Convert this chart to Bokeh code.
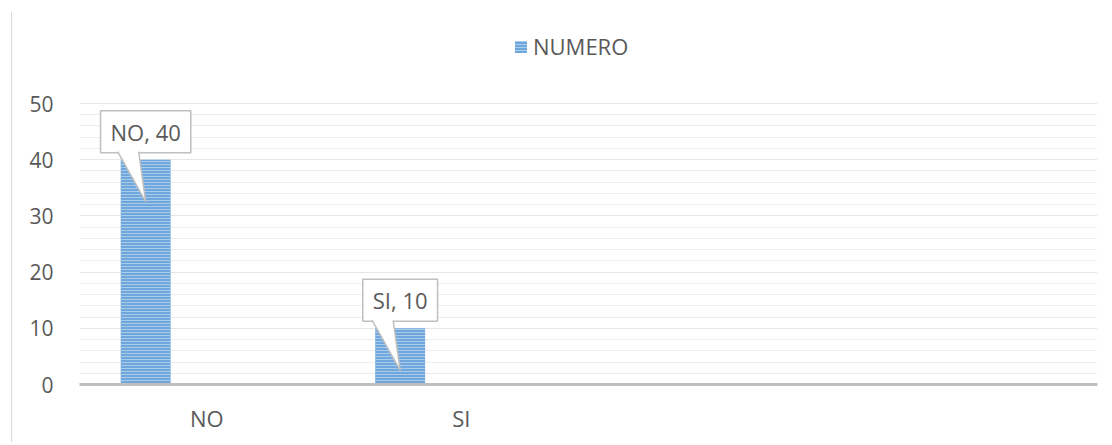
from bokeh.plotting import figure
from bokeh.models import Range1d, FixedTicker, Legend, LegendItem, ColumnDataSource
from bokeh.core.properties import value
from bokeh.embed import file_html
from bokeh.resources import INLINE

# ---- data ----
categories = ["NO", "SI"]
n_slots = 4                      # the category axis has 4 slots, two of them empty
values = [40, 10]
series_name = "NUMERO"
y_ticks = [0, 10, 20, 30, 40, 50]
y_minor = [2, 4, 6, 8, 12, 14, 16, 18, 22, 24, 26, 28, 32, 34, 36, 38, 42, 44, 46, 48]

# ---- layout / style ----
FONT = "Open Sans"
TXT = "#595959"
W, H = 1104, 442
LEFT, RIGHT, TOP, BOTTOM = 79, 7, 0, 58
frame_w = W - LEFT - RIGHT
frame_h = H - TOP - BOTTOM
y_px = 281 / 50.0                # pixels per unit on the value axis
y_end = frame_h / y_px
x_px = frame_w / n_slots         # pixels per category slot
bar_offset = -0.24
bar_width = 0.196

p = figure(width=W, height=H, output_backend="svg", toolbar_location=None,
           x_range=Range1d(0, n_slots), y_range=Range1d(0, y_end),
           min_border_left=LEFT, min_border_right=RIGHT,
           min_border_top=TOP, min_border_bottom=BOTTOM)
p.outline_line_color = None
p.background_fill_color = "white"
p.border_fill_color = None
p.styles = {"background-color": "white",
            "background-image": "linear-gradient(to right, #d9d9d9, #d9d9d9)",
            "background-size": "1px 100%",
            "background-position": "11px 12px",
            "background-repeat": "no-repeat"}

centers = [i + 0.5 for i in range(len(categories))]
bar_x = [c + bar_offset for c in centers]
src = ColumnDataSource(dict(x=bar_x, top=values, cat=categories,
                            lab=[f"{c}, {v}" for c, v in zip(categories, values)]))

bars = p.vbar(x="x", top="top", bottom=0, width=bar_width, source=src,
              fill_color="#6fa7dc", line_color=None,
              hatch_pattern="horizontal_line", hatch_color="#a9cbec",
              hatch_scale=3, hatch_weight=1)

# ---- axes ----
p.xaxis.ticker = FixedTicker(ticks=centers)
p.xaxis.major_label_overrides = {c: lab for c, lab in zip(centers, categories)}
p.xaxis.axis_line_color = "#bfbfbf"
p.xaxis.axis_line_width = 3
p.xaxis.major_tick_line_color = None
p.xaxis.minor_tick_line_color = None
p.xaxis.major_label_standoff = 12
p.xaxis.major_label_text_font = FONT
p.xaxis.major_label_text_font_size = "22px"
p.xaxis.major_label_text_color = TXT

p.yaxis.ticker = FixedTicker(ticks=y_ticks, minor_ticks=y_minor)
p.yaxis.axis_line_color = None
p.yaxis.major_tick_line_color = None
p.yaxis.minor_tick_line_color = None
p.yaxis.major_label_standoff = 20
p.yaxis.major_label_text_font = FONT
p.yaxis.major_label_text_font_size = "21px"
p.yaxis.major_label_text_color = TXT

p.xgrid.grid_line_color = None
p.ygrid.grid_line_color = "#e6e6e6"
p.ygrid.grid_line_width = 1
p.ygrid.minor_grid_line_color = "#ededed"
p.ygrid.minor_grid_line_width = 1

# ---- data label callouts ----
p.text(x="x", y="top", text="lab", source=src, y_offset=-28,
       text_align="center", text_baseline="middle",
       text_font=value(FONT), text_font_size="22px", text_color=TXT,
       background_fill_color="white", border_line_color="#bfbfbf",
       border_line_width=1.5, padding=(10, 6))

tri_xs, tri_ys, e_xs, e_ys = [], [], [], []
for bx, v in zip(bar_x, values):
    xl, xr, xt = bx - 28 / x_px, bx - 7 / x_px, bx
    yb, yt = v + 9 / y_px, v - 42 / y_px
    tri_xs.append([xl, xr, xt])
    tri_ys.append([yb, yb, yt])
    e_xs += [[bx - 28 / x_px, xt], [bx - 7 / x_px, xt]]
    e_ys += [[v + 8 / y_px, yt], [v + 8 / y_px, yt]]
p.patches(tri_xs, tri_ys, fill_color="white", line_color=None)
p.multi_line(e_xs, e_ys, line_color="#bfbfbf", line_width=1.5)

# ---- legend ----
legend = Legend(items=[LegendItem(label=series_name, renderers=[bars])],
                location=(434, 323), orientation="horizontal",
                border_line_color=None, background_fill_alpha=0,
                padding=0, margin=0, spacing=0,
                glyph_width=15, glyph_height=15, label_standoff=5,
                label_text_font=FONT, label_text_font_size="22px",
                label_text_color=TXT)
p.add_layout(legend)

open("out.html", "w").write(file_html(p, INLINE))
